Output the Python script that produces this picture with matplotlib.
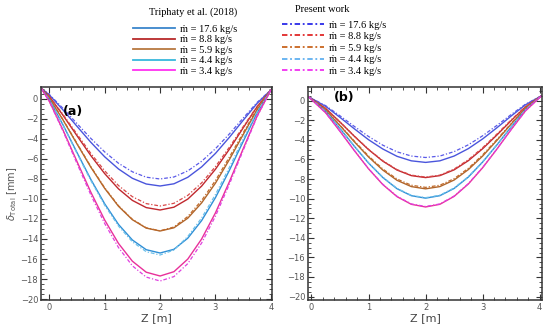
import numpy as np
import matplotlib.pyplot as plt
from matplotlib.ticker import MultipleLocator

# axial position [m]
z_a = [-0.15, 0, 0.25, 0.5, 0.75, 1.0, 1.25, 1.5, 1.75, 2.0, 2.25, 2.5, 2.75, 3.0, 3.25, 3.5, 3.75, 4.0]
z_b = [-0.05, 0.25, 0.5, 0.75, 1.0, 1.25, 1.5, 1.75, 2.0, 2.25, 2.5, 2.75, 3.0, 3.25, 3.5, 3.75, 4.03]

labels = ['ṁ = 17.6 kg/s', 'ṁ = 8.8 kg/s', 'ṁ = 5.9 kg/s', 'ṁ = 4.4 kg/s', 'ṁ = 3.4 kg/s']

# panel (a) - Triphaty et al. (solid) and present work (dash-dot)
a_ref = [
    [1.1, 0.41, -1.11, -2.73, -4.33, -5.78, -7.0, -7.93, -8.5, -8.7, -8.48, -7.83, -6.79, -5.44, -3.84, -2.13, -0.45, 0.9],
    [1.1, 0.25, -1.65, -3.67, -5.66, -7.46, -8.99, -10.14, -10.86, -11.1, -10.82, -10.01, -8.71, -7.02, -5.03, -2.89, -0.79, 0.9],
    [1.1, 0.1, -2.12, -4.49, -6.82, -8.94, -10.73, -12.07, -12.91, -13.2, -12.88, -11.92, -10.39, -8.41, -6.07, -3.56, -1.09, 0.9],
    [1.1, -0.06, -2.61, -5.35, -8.04, -10.48, -12.55, -14.1, -15.07, -15.4, -15.03, -13.92, -12.16, -9.86, -7.15, -4.25, -1.4, 0.9],
    [1.1, -0.22, -3.13, -6.25, -9.32, -12.1, -14.45, -16.22, -17.32, -17.7, -17.27, -16.01, -14.0, -11.38, -8.29, -4.98, -1.72, 0.9],
]
a_pw = [
    [1.1, 0.46, -0.95, -2.46, -3.94, -5.29, -6.43, -7.28, -7.82, -8.0, -7.8, -7.19, -6.23, -4.97, -3.5, -1.91, -0.35, 0.9],
    [1.1, 0.27, -1.56, -3.51, -5.44, -7.18, -8.66, -9.77, -10.46, -10.7, -10.43, -9.64, -8.39, -6.76, -4.83, -2.77, -0.74, 0.9],
    [1.1, 0.12, -2.08, -4.43, -6.76, -8.88, -10.68, -12.03, -12.88, -13.18, -12.8, -11.75, -10.15, -8.15, -5.82, -3.38, -0.98, 0.9],
    [1.1, -0.07, -2.66, -5.43, -8.15, -10.62, -12.71, -14.28, -15.27, -15.6, -15.1, -13.75, -11.9, -9.55, -6.85, -4.0, -1.3, 0.9],
    [1.1, -0.25, -3.24, -6.45, -9.59, -12.45, -14.86, -16.68, -17.81, -18.2, -17.76, -16.46, -14.4, -11.71, -8.54, -5.14, -1.79, 0.9],
]

# panel (b)
b_ref = [
    [0.4, -0.58, -1.7, -2.86, -3.98, -4.93, -5.68, -6.14, -6.3, -6.14, -5.65, -4.89, -3.9, -2.76, -1.56, -0.42, 0.5],
    [0.4, -0.8, -2.18, -3.62, -4.99, -6.17, -7.08, -7.65, -7.85, -7.65, -7.06, -6.12, -4.9, -3.5, -2.03, -0.64, 0.5],
    [0.4, -0.97, -2.54, -4.18, -5.74, -7.08, -8.13, -8.77, -9.0, -8.77, -8.1, -7.03, -5.65, -4.05, -2.38, -0.79, 0.5],
    [0.4, -1.11, -2.84, -4.64, -6.36, -7.84, -8.99, -9.7, -9.95, -9.7, -8.96, -7.79, -6.26, -4.51, -2.67, -0.92, 0.5],
    [0.4, -1.24, -3.12, -5.08, -6.95, -8.56, -9.8, -10.58, -10.85, -10.58, -9.77, -8.5, -6.84, -4.94, -2.94, -1.04, 0.5],
]
b_pw = [
    [0.4, -0.51, -1.54, -2.62, -3.65, -4.54, -5.22, -5.65, -5.8, -5.65, -5.2, -4.5, -3.58, -2.52, -1.41, -0.36, 0.5],
    [0.4, -0.79, -2.16, -3.6, -4.96, -6.13, -7.04, -7.6, -7.8, -7.6, -6.98, -6.02, -4.8, -3.4, -1.95, -0.6, 0.5],
    [0.4, -0.95, -2.5, -4.11, -5.64, -6.97, -8.0, -8.63, -8.85, -8.63, -7.96, -6.9, -5.53, -3.96, -2.32, -0.76, 0.5],
    [0.4, -1.1, -2.82, -4.62, -6.33, -7.8, -8.95, -9.66, -9.9, -9.65, -8.91, -7.75, -6.23, -4.49, -2.65, -0.91, 0.5],
    [0.4, -1.24, -3.11, -5.06, -6.93, -8.53, -9.76, -10.54, -10.8, -10.54, -9.73, -8.46, -6.81, -4.92, -2.93, -1.04, 0.5],
]

ref_colors = ['#4a55dc', '#c0282e', '#b0652a', '#2f8fd6', '#e8309a']
pw_colors = ['#5a5ae8', '#d84848', '#c06a2a', '#6cc0ea', '#e040e0']
leg_ref_colors = ['#3a86cc', '#b82a2a', '#b87840', '#38b8dc', '#ff30f0']
leg_pw_colors = ['#2a2ae8', '#e02828', '#c8641e', '#60b0f0', '#f030f0']
dashdot = (0, (3, 1.5, 1, 1.5))

fig = plt.figure(figsize=(5.5, 3.3), dpi=100)
ax1 = fig.add_axes([0.0745, 0.0909, 0.42, 0.6455])
ax2 = fig.add_axes([0.56, 0.0909, 0.4255, 0.6455])

for i in range(5):
    ax1.plot(z_a, a_ref[i], color=ref_colors[i], lw=1.0)
    ax1.plot(z_a, a_pw[i], color=pw_colors[i], lw=0.9, ls=dashdot)
    ax2.plot(z_b, b_ref[i], color=ref_colors[i], lw=1.0)
    ax2.plot(z_b, b_pw[i], color=pw_colors[i], lw=0.9, ls=dashdot)

ax1.set_xlim(-0.15, 4.02)
ax1.set_ylim(-20.1, 1.2)
ax2.set_xlim(-0.06, 4.04)
ax2.set_ylim(-20.35, 1.4)

for ax in (ax1, ax2):
    ax.xaxis.set_major_locator(MultipleLocator(1))
    ax.xaxis.set_minor_locator(MultipleLocator(0.2))
    ax.yaxis.set_major_locator(MultipleLocator(2))
    ax.yaxis.set_minor_locator(MultipleLocator(0.5))
    ax.tick_params(which='both', direction='in', top=True, right=True,
                   labelsize=6, colors='#333333', labelcolor='#555555', pad=2)
    ax.tick_params(which='major', length=4, width=0.8)
    ax.tick_params(which='minor', length=2, width=0.6)
    for s in ax.spines.values():
        s.set_linewidth(1.1)
        s.set_color('#333333')
    ax.set_xlabel('Z [m]', fontsize=8, color='#444444', labelpad=1)

ax1.set_ylabel(r'$\delta_{\mathrm{Total}}$ [mm]', fontsize=7, color='#555555', labelpad=1)
ax1.text(0.42, -1.3, '(a)', fontsize=9, fontweight='bold', ha='center', va='center')
ax2.text(0.58, 0.3, '(b)', fontsize=9, fontweight='bold', ha='center', va='center')

serif = ['Liberation Serif', 'DejaVu Serif']
h1 = [plt.Line2D([], [], color=c, lw=1.3) for c in leg_ref_colors]
h2 = [plt.Line2D([], [], color=c, lw=1.3, ls=dashdot) for c in leg_pw_colors]
fig.legend(h1, labels, loc='upper left', bbox_to_anchor=(0.225, 0.954),
           frameon=False, handlelength=4.0, handletextpad=0.5, labelspacing=0.12,
           prop={'family': serif, 'size': 7.5})
fig.legend(h2, labels, loc='upper left', bbox_to_anchor=(0.496, 0.967),
           frameon=False, handlelength=4.0, handletextpad=0.5, labelspacing=0.22,
           prop={'family': serif, 'size': 7.5})
fig.text(193 / 550, 1 - 12 / 330, 'Triphaty et al. (2018)', family=serif, size=7.5,
         ha='center', va='center')
fig.text(322 / 550, 1 - 10 / 330, 'Present work', family=serif, size=7.5,
         ha='center', va='center')

fig.savefig('out.png', dpi=100)
